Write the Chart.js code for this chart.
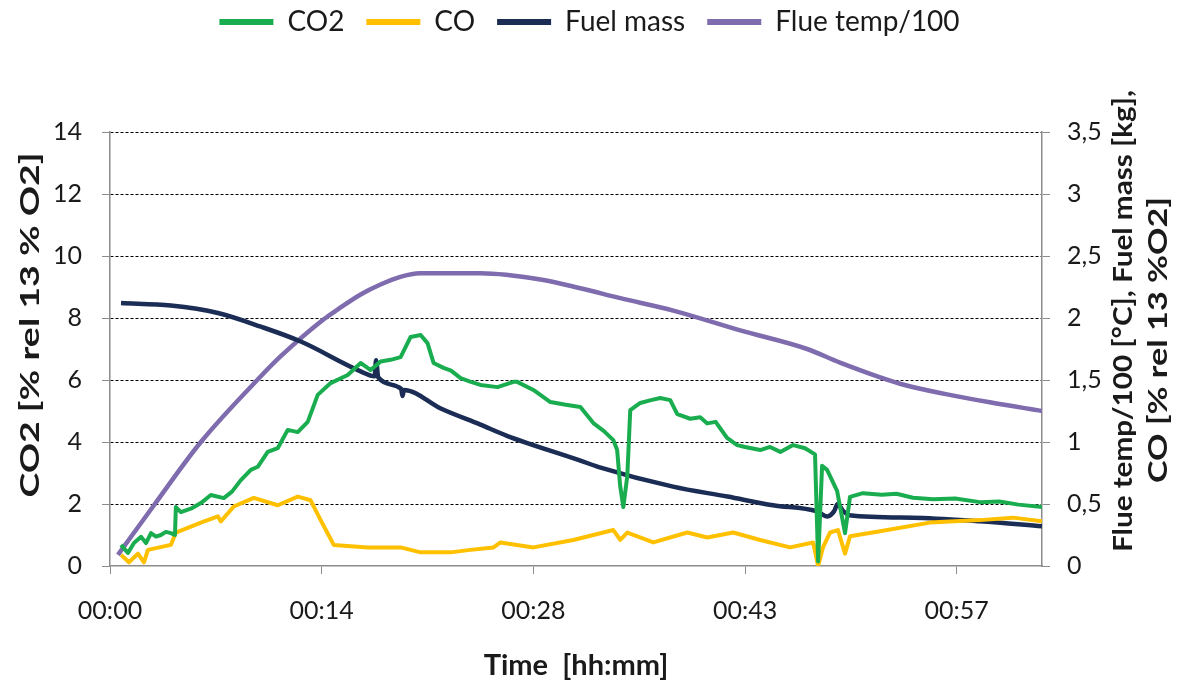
<!DOCTYPE html>
<html>
<head>
<meta charset="utf-8">
<script src="https://cdn.jsdelivr.net/npm/chart.js@4.4.1/dist/chart.umd.min.js"></script>
<style>
  html, body { margin: 0; padding: 0; background: #fff; }
  #wrap { width: 1179px; height: 681px; }
</style>
</head>
<body>
<div id="wrap"><canvas id="chart" width="1179" height="681"></canvas></div>
<script>
// ---- data (time in minutes) ----
const xTickValues = [0, 14.4, 28.8, 43.2, 57.6];
const xTickLabels = ['00:00', '00:14', '00:28', '00:43', '00:57'];

// CO2 [% rel 13 % O2] - left axis
const co2Time = [0.75,1.22,1.63,2.11,2.45,2.79,3.13,3.46,3.8,4.14,4.42,4.48,4.82,5.5,6.18,6.86,7.74,8.3,8.9,9.58,10.05,10.73,11.41,12.09,12.77,13.45,14.13,15.01,16.17,17.05,17.73,18.41,19.09,19.77,20.45,21.13,21.6,22.01,22.69,23.2,23.85,24.5,25.2,26.36,27.45,27.7,28.8,29.96,31.0,32.0,32.88,33.6,34.24,34.5,34.7,34.92,35.19,35.39,36.07,36.8,37.43,38.11,38.59,39.47,40.15,40.63,41.2,41.98,42.66,43.2,44.23,44.9,45.6,46.47,47.28,47.96,48.17,48.44,48.78,49.46,50.0,50.34,51.22,52.5,53.5,54.62,56.0,57.5,59.17,60.5,61.8,63.4];
const co2Values = [0.68,0.42,0.74,0.94,0.74,1.06,0.95,1.0,1.1,1.06,1.0,1.9,1.74,1.85,2.03,2.29,2.19,2.4,2.77,3.1,3.2,3.68,3.8,4.39,4.32,4.65,5.52,5.9,6.16,6.55,6.32,6.6,6.65,6.74,7.39,7.45,7.19,6.55,6.39,6.3,6.06,5.95,5.84,5.77,5.94,5.94,5.68,5.29,5.2,5.13,4.61,4.35,4.06,3.74,2.6,1.9,2.9,5.03,5.26,5.35,5.42,5.35,4.9,4.75,4.8,4.6,4.65,4.13,3.9,3.84,3.74,3.84,3.68,3.9,3.8,3.6,0.15,3.23,3.1,2.42,1.06,2.23,2.35,2.3,2.33,2.2,2.15,2.18,2.06,2.08,1.98,1.9];

// CO [% rel 13 % O2] - right axis
const coTime = [0.75,1.29,1.9,2.31,2.58,4.14,4.48,6.18,7.34,7.54,8.42,9.78,11.41,12.77,13.65,14.33,15.22,17.53,19.77,21.13,23.17,24.52,26.09,26.56,28.8,31.52,34.24,34.71,35.19,36.96,39.27,40.63,42.39,44.23,46.26,47.83,48.17,48.5,48.98,49.52,50.0,50.34,52.38,55.77,59.17,61.41,63.4];
const coValues = [0.09,0.03,0.1,0.03,0.13,0.17,0.27,0.35,0.4,0.36,0.48,0.55,0.49,0.56,0.53,0.37,0.17,0.15,0.15,0.11,0.11,0.13,0.15,0.19,0.15,0.21,0.29,0.21,0.27,0.19,0.27,0.23,0.27,0.21,0.15,0.19,0.0,0.15,0.27,0.29,0.1,0.24,0.28,0.35,0.37,0.39,0.36];

// Fuel mass [kg] - right axis
const fuelTime = [0.75,4.14,7.34,10.26,12.98,17.05,18.0,18.1,18.25,19.8,19.9,20.0,22.5,25.2,27.0,32.0,33.2,38.3,42.0,45.1,48.1,48.8,49.25,49.5,49.9,50.3,54.6,59.2,63.4];
const fuelValues = [2.12,2.1,2.04,1.93,1.81,1.57,1.53,1.66,1.52,1.43,1.37,1.42,1.27,1.14,1.05,0.85,0.8,0.64,0.56,0.49,0.44,0.4,0.44,0.5,0.44,0.41,0.39,0.36,0.32];

// Flue temp/100 [°C] - right axis
const flueTime = [0.54,2.99,6.18,10.26,11.6,14.54,15.5,17.05,18.4,19.7,21.1,25.2,29.28,32.0,34.72,38.32,42.87,47.42,49.66,53.74,57.13,59.85,63.4];
const flueValues = [0.09,0.49,1.0,1.53,1.69,1.99,2.07,2.19,2.27,2.33,2.36,2.36,2.31,2.24,2.16,2.06,1.9,1.75,1.64,1.47,1.38,1.32,1.25];

const leftTitle = 'CO2 [% rel 13 % O2]';
const rightTitle = ['Flue temp/100 [°C], Fuel mass [kg],', 'CO [% rel 13 %O2]'];

// ---- helpers ----
const toPoints = (ts, vs) => ts.map((t, i) => ({ x: t, y: vs[i] }));
const AXIS_GREY = '#8c8c8c';
const TEXT = '#1a1a1a';

// legend gets a fixed height so the plot starts where the original does
const legendHeight = {
  id: 'legendHeight',
  beforeInit(chart) {
    const fit = chart.legend.fit;
    chart.legend.fit = function () {
      fit.call(this);
      this.height = 132;
    };
  },
  afterLayout(chart) {
    chart.legend.top -= 14;
  }
};

// vertical axis titles, reading bottom to top on both sides
function drawVertical(ctx, text, x, y, len) {
  ctx.save();
  ctx.font = 'bold 27px Lato';
  ctx.fillStyle = TEXT;
  ctx.textAlign = 'center';
  ctx.textBaseline = 'middle';
  ctx.translate(x, y);
  ctx.rotate(-Math.PI / 2);
  const w = ctx.measureText(text).width;
  ctx.scale(len / w, 1);
  ctx.fillText(text, 0, 0);
  ctx.restore();
}

const axisTitles = {
  id: 'axisTitles',
  afterDraw(chart) {
    const ctx = chart.ctx;
    drawVertical(ctx, leftTitle, 30, 325, 345);
    drawVertical(ctx, rightTitle[0], 1123, 321, 462);
    drawVertical(ctx, rightTitle[1], 1158, 340, 286);
  }
};

const ctx = document.getElementById('chart').getContext('2d');

new Chart(ctx, {
  type: 'line',
  data: {
    datasets: [
      {
        label: 'CO2',
        data: toPoints(co2Time, co2Values),
        borderColor: '#1aad50',
        backgroundColor: '#1aad50',
        borderWidth: 4,
        borderJoinStyle: 'round',
        pointRadius: 0,
        tension: 0,
        yAxisID: 'y'
      },
      {
        label: 'CO',
        data: toPoints(coTime, coValues),
        borderColor: '#ffc000',
        backgroundColor: '#ffc000',
        borderWidth: 4,
        borderJoinStyle: 'round',
        pointRadius: 0,
        tension: 0,
        yAxisID: 'y1'
      },
      {
        label: 'Fuel mass',
        data: toPoints(fuelTime, fuelValues),
        borderColor: '#1b2d55',
        backgroundColor: '#1b2d55',
        borderWidth: 4.5,
        pointRadius: 0,
        cubicInterpolationMode: 'monotone',
        yAxisID: 'y1'
      },
      {
        label: 'Flue temp/100',
        data: toPoints(flueTime, flueValues),
        borderColor: '#7e6cae',
        backgroundColor: '#7e6cae',
        borderWidth: 4.5,
        pointRadius: 0,
        cubicInterpolationMode: 'monotone',
        yAxisID: 'y1'
      }
    ]
  },
  options: {
    responsive: false,
    animation: false,
    devicePixelRatio: 1,
    layout: { padding: 0 },
    plugins: {
      legend: {
        position: 'top',
        labels: {
          boxWidth: 54,
          boxHeight: 6,
          padding: 22,
          color: TEXT,
          font: { family: 'Lato', size: 28 },
          generateLabels(chart) {
            const items = Chart.defaults.plugins.legend.labels.generateLabels(chart);
            items.forEach(it => { it.lineWidth = 0; it.fillStyle = it.strokeStyle; });
            return items;
          }
        }
      },
      tooltip: { enabled: false }
    },
    scales: {
      x: {
        type: 'linear',
        min: 0,
        max: 63.4,
        afterBuildTicks: s => { s.ticks = xTickValues.map(v => ({ value: v })); },
        afterFit: s => { s.height = 115; },
        ticks: {
          autoSkip: false,
          maxRotation: 0,
          padding: 22,
          color: TEXT,
          font: { family: 'Lato', size: 25 },
          callback: (v, i) => xTickLabels[i]
        },
        grid: { drawOnChartArea: false, tickLength: 8, color: AXIS_GREY, tickColor: AXIS_GREY },
        border: { color: AXIS_GREY, width: 1.5 },
        title: {
          display: true,
          text: 'Time  [hh:mm]',
          color: TEXT,
          font: { family: 'Lato', size: 29, weight: 'bold', lineHeight: 1 },
          padding: { top: 0, bottom: 1 }
        }
      },
      y: {
        position: 'left',
        min: 0,
        max: 14,
        afterFit: s => { s.width = 110; },
        ticks: {
          stepSize: 2,
          padding: 20,
          color: TEXT,
          font: { family: 'Lato', size: 25 }
        },
        grid: {
          color: c => (c.tick && c.tick.value === 0) ? 'rgba(0,0,0,0)' : '#000',
          lineWidth: 1,
          tickLength: 8,
          tickColor: AXIS_GREY
        },
        border: { color: AXIS_GREY, width: 1.5, dash: [3, 2] }
      },
      y1: {
        position: 'right',
        min: 0,
        max: 3.5,
        afterFit: s => { s.width = 137; },
        ticks: {
          stepSize: 0.5,
          padding: 17,
          color: TEXT,
          font: { family: 'Lato', size: 25 },
          callback: v => String(v).replace('.', ',')
        },
        grid: { drawOnChartArea: false, tickLength: 8, color: AXIS_GREY, tickColor: AXIS_GREY },
        border: { color: AXIS_GREY, width: 1.5 }
      }
    }
  },
  plugins: [legendHeight, axisTitles]
});
</script>
</body>
</html>
